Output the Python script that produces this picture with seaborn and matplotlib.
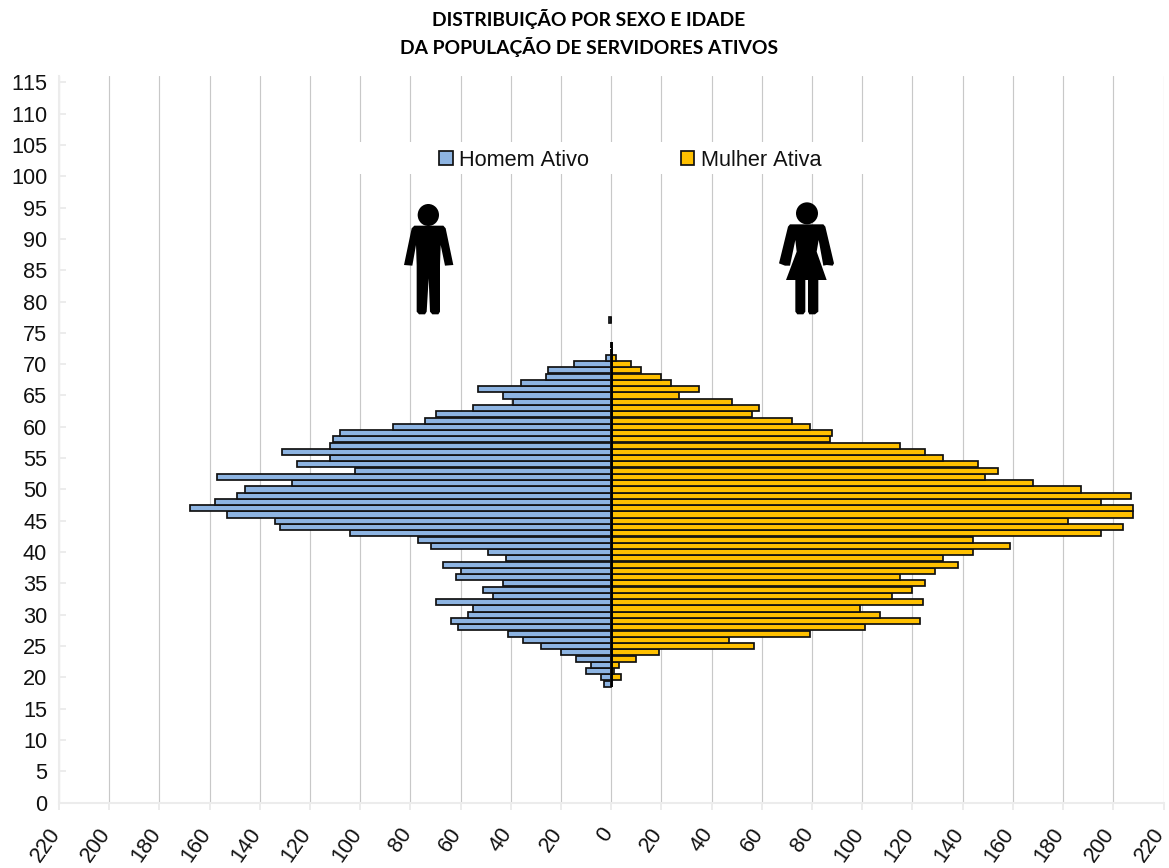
#!/usr/bin/env python3
"""Piramide etaria dos servidores ativos."""

import matplotlib
matplotlib.use('Agg')
import matplotlib.pyplot as plt
import numpy as np
import pandas as pd
import seaborn as sns
from matplotlib.patches import Ellipse, Polygon, Rectangle
from matplotlib.transforms import ScaledTranslation

W, H = 1169, 868

idades = [77, 73, 72, 71, 70, 69, 68, 67, 66, 65, 64, 63, 62, 61, 60, 59, 58, 57, 56, 55,
          54, 53, 52, 51, 50, 49, 48, 47, 46, 45, 44, 43, 42, 41, 40, 39, 38, 37, 36, 35,
          34, 33, 32, 31, 30, 29, 28, 27, 26, 25, 24, 23, 22, 21, 20, 19]
homens = [1, 0, 0, 2, 15, 25, 26, 36, 53, 43, 39, 55, 70, 74, 87, 108, 111, 112, 131, 112,
          125, 102, 157, 127, 146, 149, 158, 168, 153, 134, 132, 104, 77, 72, 49, 42, 67, 60, 62, 43,
          51, 47, 70, 55, 57, 64, 61, 41, 35, 28, 20, 14, 8, 10, 4, 3]
mulheres = [0, 0, 0, 2, 8, 12, 20, 24, 35, 27, 48, 59, 56, 72, 79, 88, 87, 115, 125, 132,
            146, 154, 149, 168, 187, 207, 195, 208, 208, 182, 204, 195, 144, 159, 144, 132, 138, 129, 115, 125,
            120, 112, 124, 99, 107, 123, 101, 79, 47, 57, 19, 10, 3, 1, 4, 0]

x_ticks = list(range(-220, 221, 20))
y_ticks = list(range(0, 116, 5))
titulo = 'DISTRIBUIÇÃO POR SEXO E IDADE\nDA POPULAÇÃO DE SERVIDORES ATIVOS'

# silhuetas, em pixels da imagem
homem_corpo = [(58, 92), (145, 92), (152, 100), (175, 210), (150, 212), (137, 150), (135, 210),
               (135, 350), (130, 358), (112, 358), (105, 350), (101, 250), (95, 350), (90, 358),
               (72, 358), (65, 350), (65, 210), (63, 150), (52, 212), (27, 210), (50, 100)]
mulher_corpo = [(60, 88), (160, 88), (166, 95), (192, 205), (188, 212), (170, 210), (160, 212),
                (146, 135), (140, 170), (170, 255), (145, 255), (145, 350), (135, 358), (118, 358),
                (114, 350), (114, 255), (106, 255), (106, 350), (100, 358), (82, 358), (76, 350),
                (76, 255), (48, 255), (80, 170), (76, 135), (60, 212), (45, 212), (27, 205), (54, 95)]


def fx(px):
    return px / W


def fy(py):
    return 1 - py / H


def figura(fig, corpo, cabeca, x0, y0):
    # coordenadas do desenho em escala 3x
    pts = [(fx(x0 + a / 3), fy(y0 + b / 3)) for a, b in corpo]
    fig.add_artist(Polygon(pts, closed=True, facecolor='black', edgecolor='none',
                           transform=fig.transFigure))
    cx, cy, rx, ry = cabeca
    fig.add_artist(Ellipse((fx(x0 + cx / 3), fy(y0 + cy / 3)), 2 * rx / 3 / W, 2 * ry / 3 / H,
                           facecolor='black', edgecolor='none', transform=fig.transFigure))


def main():
    sns.set_theme(style='white')
    plt.rcParams['font.family'] = ['Liberation Sans', 'DejaVu Sans']
    plt.rcParams['text.kerning_factor'] = 6

    df = pd.concat([
        pd.DataFrame({'idade': idades, 'valor': -np.array(homens), 'sexo': 'Homem Ativo'}),
        pd.DataFrame({'idade': idades, 'valor': np.array(mulheres), 'sexo': 'Mulher Ativa'}),
    ])

    fig = plt.figure(figsize=(W / 100, H / 100), dpi=100, facecolor='white')
    ax = fig.add_axes([fx(59), fy(802.7), fx(1163.5 - 59), (802.7 - 76) / H])

    sns.barplot(data=df, x='valor', y='idade', hue='sexo', orient='h', native_scale=True,
                dodge=False, width=0.97, palette=['#8DB4E2', '#FFC000'], saturation=1,
                edgecolor='#111111', linewidth=1.25, errorbar=None, ax=ax)

    # eixo central preto, so onde ha barras continuas
    ax.vlines(0.3, min(idades) - 0.5, idades[1] + 0.5, color='black', linewidth=1.4, zorder=3)

    ax.set_xlim(-220, 220)
    ax.set_ylim(0, 116)
    ax.set_xticks(x_ticks)
    ax.set_xticklabels([str(abs(v)) for v in x_ticks], rotation=55, ha='right', va='center',
                       rotation_mode='anchor', fontsize=15.7, color='#111111')
    ax.set_yticks(y_ticks)
    ax.set_yticklabels([str(v) for v in y_ticks], fontsize=15.7, color='#111111')
    ax.set_xlabel('')
    ax.set_ylabel('')

    ax.set_axisbelow(True)
    ax.grid(axis='x', color='#c8c8c8', linewidth=0.85)
    ax.grid(axis='y', visible=False)
    ax.tick_params(axis='x', direction='out', length=5, width=1.4, color='#ececec', pad=13, bottom=True)
    ax.tick_params(axis='y', direction='in', length=5, width=1.4, color='#ececec', pad=8.5, left=True)
    sns.despine(ax=ax)
    for lado in ['left', 'bottom']:
        ax.spines[lado].set_color('#ececec')
        ax.spines[lado].set_linewidth(1.5)

    # empurra os rotulos x um pouco para a esquerda e para baixo
    desloca = ScaledTranslation(-3 / 100, -2 / 100, fig.dpi_scale_trans)
    for lab in ax.get_xticklabels():
        lab.set_transform(lab.get_transform() + desloca)

    # faixa branca atras da legenda
    ax.add_patch(Rectangle((fx(350), fy(174)), fx(875 - 350), 32 / H, facecolor='white',
                           edgecolor='none', transform=fig.transFigure, zorder=1.5, clip_on=False))

    sns.move_legend(ax, 'center', bbox_to_anchor=(fx(630.5), fy(160)), bbox_transform=fig.transFigure,
                    ncol=2, title=None, frameon=False, fontsize=15.7, handlelength=0.62,
                    handleheight=0.62, handletextpad=0.3, columnspacing=4.2, borderpad=0)
    for txt in ax.get_legend().get_texts():
        txt.set_color('#111111')

    fig.text(fx(589), fy(33), titulo, ha='center', va='center', fontsize=13.9, fontweight='bold',
             family=['Lato', 'DejaVu Sans'], color='black', linespacing=1.52)

    figura(fig, homem_corpo, (100, 60, 32, 33), 395, 195)
    figura(fig, mulher_corpo, (111, 55, 33, 33), 770, 195)

    fig.savefig('out.png', dpi=100)
    plt.close(fig)


if __name__ == "__main__":
    main()
